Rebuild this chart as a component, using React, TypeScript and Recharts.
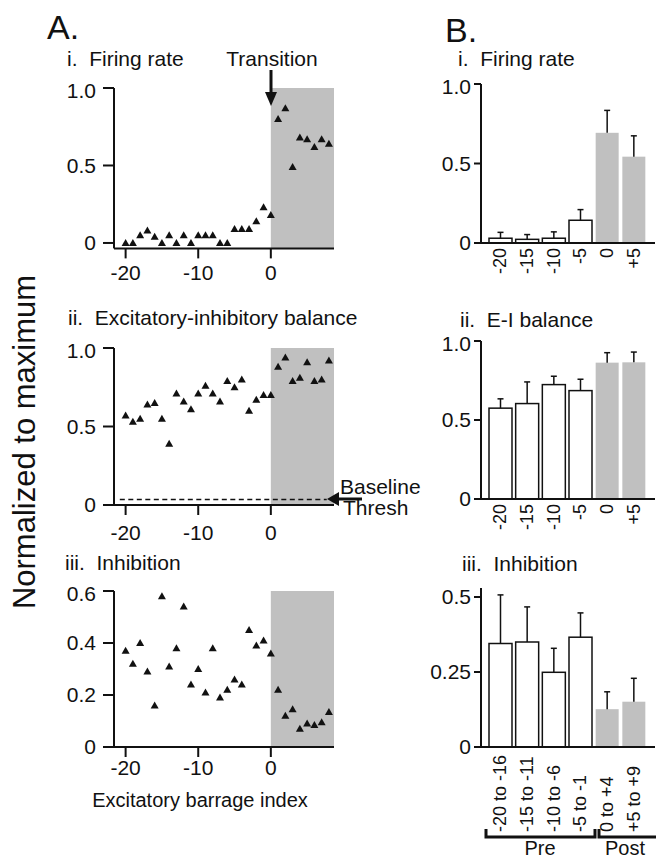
import React from 'react';
import { ScatterChart, Scatter, XAxis, YAxis, ReferenceArea, ReferenceLine, BarChart, Bar } from 'recharts';

// Panel A: barrage-by-barrage values
const barrageIndex = [-20, -19, -18, -17, -16, -15, -14, -13, -12, -11, -10, -9, -8, -7, -6, -5, -4, -3, -2, -1, 0, 1, 2, 3, 4, 5, 6, 7, 8];
const firingRate = [0, 0, 0.05, 0.08, 0.04, 0, 0.05, 0, 0.05, 0, 0.05, 0.05, 0.05, 0, 0, 0.09, 0.09, 0.09, 0.14, 0.23, 0.18, 0.8, 0.87, 0.49, 0.68, 0.67, 0.62, 0.67, 0.64];
const eiBalance = [0.57, 0.53, 0.55, 0.64, 0.65, 0.55, 0.39, 0.71, 0.66, 0.61, 0.71, 0.76, 0.71, 0.66, 0.79, 0.75, 0.8, 0.6, 0.67, 0.7, 0.7, 0.88, 0.94, 0.79, 0.81, 0.91, 0.79, 0.8, 0.92];
const inhibition = [0.37, 0.32, 0.4, 0.29, 0.16, 0.58, 0.31, 0.38, 0.54, 0.24, 0.3, 0.21, 0.38, 0.19, 0.22, 0.26, 0.24, 0.45, 0.39, 0.41, 0.36, 0.22, 0.12, 0.145, 0.07, 0.09, 0.085, 0.095, 0.135];

// Panel B: binned means and upper error
const binLabels = ['-20', '-15', '-10', '-5', '0', '+5'];
const rangeLabels = ['-20 to -16', '-15 to -11', '-10 to -6', '-5 to -1', '0 to +4', '+5 to +9'];
const isPost = [false, false, false, false, true, true];
const frMean = [0.03, 0.023, 0.03, 0.143, 0.693, 0.543];
const frErr = [0.037, 0.03, 0.04, 0.067, 0.141, 0.131];
const eiMean = [0.575, 0.604, 0.724, 0.686, 0.863, 0.865];
const eiErr = [0.059, 0.137, 0.053, 0.072, 0.063, 0.065];
const inhMean = [0.345, 0.35, 0.249, 0.366, 0.126, 0.151];
const inhErr = [0.162, 0.117, 0.08, 0.081, 0.058, 0.078];

const INK = '#111';
const GRAY = '#c0c0c0';
const FONT = '"Liberation Sans", Arial, Helvetica, sans-serif';

const fmtTick = (v: number) => (v === 0 ? '0' : String(v).length > 3 ? String(v) : v.toFixed(1));

const renderTriangle = (props: any) => {
  const { cx, cy } = props;
  return <polygon points={`${cx - 4},${cy + 3} ${cx + 4},${cy + 3} ${cx},${cy - 4}`} fill={INK} />;
};

const renderBar = (props: any) => {
  const { x, y, width, height } = props;
  const d = props.payload ?? props;
  const pxPerUnit = height / d.mean;
  const top = y - d.err * pxPerUnit;
  const cx = x + width / 2;
  return (
    <g>
      <rect x={x} y={y} width={width} height={height} fill={d.post ? GRAY : '#fff'} stroke={d.post ? 'none' : INK} strokeWidth={1.5} />
      <line x1={cx} x2={cx} y1={y} y2={top} stroke={INK} strokeWidth={1.5} />
      <line x1={cx - 3} x2={cx + 3} y1={top} y2={top} stroke={INK} strokeWidth={1.5} />
    </g>
  );
};

const TopTick = (props: any) => {
  const { x, y, payload } = props;
  return (
    <text x={x} y={y} transform={`rotate(-90 ${x} ${y})`} textAnchor="end" dominantBaseline="central" fontSize={18} fill={INK}>
      {payload.value}
    </text>
  );
};

const BottomTick = (props: any) => {
  const { x, y, payload } = props;
  const by = y + 80;
  return (
    <text x={x} y={by} transform={`rotate(-90 ${x} ${by})`} textAnchor="start" dominantBaseline="central" fontSize={18} fill={INK}>
      {payload.value}
    </text>
  );
};

interface ScatterPanelProps {
  top: number;
  height: number;
  values: number[];
  yMin: number;
  yMax: number;
  yTicks: number[];
  xTickMargin: number;
  children?: React.ReactNode;
}

function ScatterPanel({ top, height, values, yMin, yMax, yTicks, xTickMargin, children }: ScatterPanelProps) {
  const rows = barrageIndex.map((x, i) => ({ x, y: values[i] }));
  return (
    <div style={{ position: 'absolute', left: 40, top }}>
      <ScatterChart width={320} height={height} margin={{ top: 10, right: 26, bottom: 0, left: 0 }}>
        <ReferenceArea x1={0} x2={8.7} y1={yMin} y2={yMax} fill={GRAY} fillOpacity={1} stroke="none" />
        {children}
        <XAxis
          type="number"
          dataKey="x"
          domain={[-21.6, 8.7]}
          ticks={[-20, -10, 0]}
          allowDataOverflow
          height={40}
          tickSize={10}
          tickMargin={xTickMargin}
          axisLine={{ stroke: INK, strokeWidth: 2 }}
          tickLine={{ stroke: INK, strokeWidth: 2 }}
          tick={{ fontSize: 21, fill: INK }}
        />
        <YAxis
          type="number"
          dataKey="y"
          domain={[yMin, yMax]}
          ticks={yTicks}
          allowDataOverflow
          width={74}
          tickSize={11}
          tickMargin={7}
          tickFormatter={fmtTick}
          axisLine={{ stroke: INK, strokeWidth: 2 }}
          tickLine={{ stroke: INK, strokeWidth: 2 }}
          tick={{ fontSize: 21, fill: INK }}
        />
        <Scatter data={rows} shape={renderTriangle} isAnimationActive={false} />
      </ScatterChart>
    </div>
  );
}

interface BarPanelProps {
  top: number;
  height: number;
  means: number[];
  errs: number[];
  labels: string[];
  yMax: number;
  yTicks: number[];
  tick: (p: any) => React.ReactElement;
  xHeight: number;
}

function BarPanel({ top, height, means, errs, labels, yMax, yTicks, tick, xHeight }: BarPanelProps) {
  const rows = labels.map((label, i) => ({ label, mean: means[i], err: errs[i], post: isPost[i] }));
  return (
    <div style={{ position: 'absolute', left: 420, top }}>
      <BarChart width={238} height={height} data={rows} margin={{ top: 10, right: 3, bottom: 0, left: 0 }} barSize={23}>
        <XAxis
          dataKey="label"
          type="category"
          padding={{ left: 6, right: 8 }}
          interval={0}
          height={xHeight}
          tickLine={false}
          tickSize={0}
          tickMargin={5}
          tick={tick}
          axisLine={{ stroke: INK, strokeWidth: 2 }}
        />
        <YAxis
          type="number"
          domain={[0, yMax]}
          ticks={yTicks}
          allowDataOverflow
          width={61}
          tickSize={7}
          tickMargin={3}
          tickFormatter={fmtTick}
          axisLine={{ stroke: INK, strokeWidth: 2 }}
          tickLine={{ stroke: INK, strokeWidth: 2 }}
          tick={{ fontSize: 21, fill: INK }}
        />
        <Bar dataKey="mean" shape={renderBar} isAnimationActive={false} />
      </BarChart>
    </div>
  );
}

export default function App() {
  const txt = { fill: INK, fontSize: 21, style: { whiteSpace: 'pre' as const } };
  return (
    <div style={{ position: 'absolute', left: 0, top: 0, width: 658, height: 861, background: '#fff', fontFamily: FONT, overflow: 'hidden' }}>
      <ScatterPanel top={78} height={210.4} values={firingRate} yMin={-0.035} yMax={1} yTicks={[0, 0.5, 1]} xTickMargin={7} />
      <ScatterPanel top={338} height={207} values={eiBalance} yMin={0} yMax={1} yTicks={[0, 0.5, 1]} xTickMargin={10}>
        <ReferenceLine
          segment={[{ x: -20.8, y: 0.035 }, { x: 7.7, y: 0.035 }]}
          stroke={INK}
          strokeWidth={1.5}
          strokeDasharray="5 3.5"
        />
      </ScatterPanel>
      <ScatterPanel top={580.7} height={206} values={inhibition} yMin={0} yMax={0.6} yTicks={[0, 0.2, 0.4, 0.6]} xTickMargin={3} />

      <BarPanel top={74} height={219} means={frMean} errs={frErr} labels={binLabels} yMax={1} yTicks={[0, 0.5, 1]} tick={TopTick} xHeight={50} />
      <BarPanel top={331} height={218} means={eiMean} errs={eiErr} labels={binLabels} yMax={1} yTicks={[0, 0.5, 1]} tick={TopTick} xHeight={50} />
      <BarPanel top={578} height={269} means={inhMean} errs={inhErr} labels={rangeLabels} yMax={0.53} yTicks={[0, 0.25, 0.5]} tick={BottomTick} xHeight={100} />

      <svg width={658} height={861} style={{ position: 'absolute', left: 0, top: 0, pointerEvents: 'none', fontFamily: FONT }}>
        <text x={47} y={39} fontSize={34} fill={INK}>A.</text>
        <text x={445} y={42} fontSize={34} fill={INK}>B.</text>

        <text x={67} y={66} {...txt}>i.  Firing rate</text>
        <text x={272} y={66} textAnchor="middle" {...txt}>Transition</text>
        <text x={68} y={325} {...txt}>ii.  Excitatory-inhibitory balance</text>
        <text x={65} y={570} {...txt}>iii.  Inhibition</text>
        <text x={200} y={807} textAnchor="middle" {...txt} fontSize={20}>Excitatory barrage index</text>

        <text x={458} y={66} {...txt}>i.  Firing rate</text>
        <text x={460} y={327} {...txt}>ii.  E-I balance</text>
        <text x={462} y={571} {...txt}>iii.  Inhibition</text>

        <text x={35} y={442} transform="rotate(-90 35 442)" textAnchor="middle" fontSize={31} fill={INK}>Normalized to maximum</text>

        {/* transition arrow */}
        <line x1={271} y1={70} x2={271} y2={94} stroke={INK} strokeWidth={3} />
        <polygon points="265,92 277,92 271,106" fill={INK} />

        {/* baseline threshold arrow */}
        <line x1={336} y1={499} x2={362} y2={499} stroke={INK} strokeWidth={3} />
        <polygon points="339,492 339,506 327,499" fill={INK} />
        <text x={340} y={494} {...txt}>Baseline</text>
        <text x={343} y={515} {...txt}>Thresh</text>

        {/* Pre / Post brackets */}
        <polyline points="486,829 486,837 595,837 595,829" fill="none" stroke={INK} strokeWidth={3} />
        <polyline points="599,829 599,837 656,837" fill="none" stroke={INK} strokeWidth={3} />
        <text x={540} y={855} textAnchor="middle" {...txt} fontSize={20}>Pre</text>
        <text x={625} y={855} textAnchor="middle" {...txt} fontSize={20}>Post</text>
      </svg>
    </div>
  );
}
